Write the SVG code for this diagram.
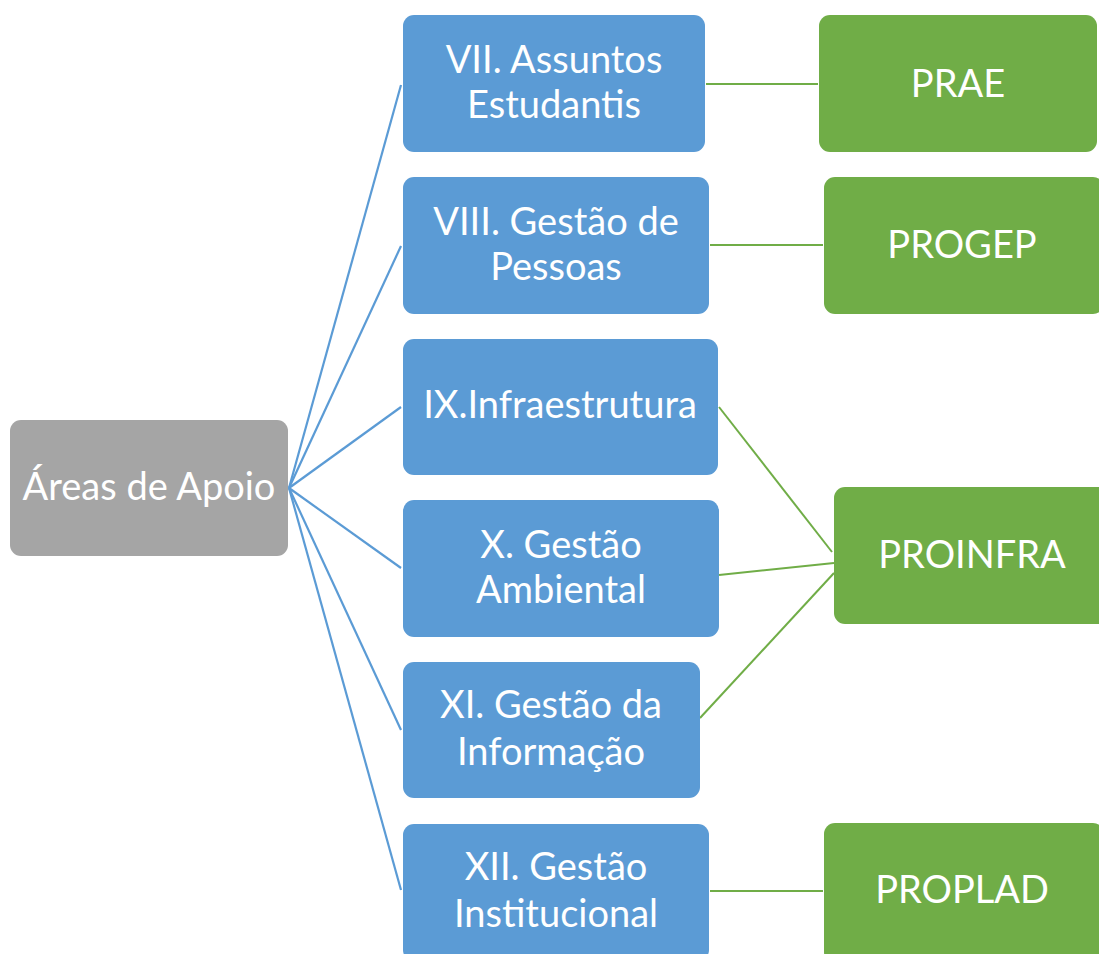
<svg xmlns="http://www.w3.org/2000/svg" width="1099" height="954" viewBox="0 0 1099 954">
<style>
.t{font-family:Lato,"Open Sans","Liberation Sans",sans-serif;font-size:38px;fill:#ffffff;text-anchor:middle}
.blue{fill:#5B9BD5}
.green{fill:#70AD47}
.gray{fill:#A5A5A5}
.lb{stroke:#5B9BD5;stroke-width:2.2;fill:none}
.lg{stroke:#70AD47;stroke-width:2;fill:none}
</style>
<rect width="1099" height="954" fill="#ffffff"/>
<g id="connectors">
<line class="lb" x1="289" y1="488" x2="401" y2="85"/>
<line class="lb" x1="289" y1="488" x2="401" y2="246"/>
<line class="lb" x1="289" y1="488" x2="401" y2="407"/>
<line class="lb" x1="289" y1="488" x2="401" y2="568"/>
<line class="lb" x1="289" y1="488" x2="401" y2="730"/>
<line class="lb" x1="289" y1="488" x2="401" y2="890"/>
<line class="lg" x1="706" y1="84" x2="818" y2="84" stroke-width="2.5"/>
<line class="lg" x1="710" y1="245" x2="823" y2="245" stroke-width="2.5"/>
<line class="lg" x1="719" y1="407" x2="832" y2="552"/>
<line class="lg" x1="719" y1="575" x2="834" y2="563" stroke-width="1.5"/>
<line class="lg" x1="700" y1="718" x2="834" y2="573" stroke-width="1.5"/>
<line class="lg" x1="710" y1="891" x2="823" y2="891" stroke-width="2.5"/>
</g>
<g id="areas">
<rect class="gray" x="10" y="420" width="278" height="136" rx="11"/>
<text class="t" x="149" y="500">Áreas de Apoio</text>
</g>
<g id="vii">
<rect class="blue" x="403" y="15" width="302" height="137" rx="11"/>
<text class="t" x="554" y="73">VII. Assuntos</text>
<text class="t" x="554" y="118">Estudantis</text>
</g>
<g id="viii">
<rect class="blue" x="403" y="177" width="306" height="137" rx="11"/>
<text class="t" x="556" y="235">VIII. Gestão de</text>
<text class="t" x="556" y="280">Pessoas</text>
</g>
<g id="ix">
<rect class="blue" x="403" y="339" width="315" height="136" rx="11"/>
<text class="t" x="560" y="418">IX.Infraestrutura</text>
</g>
<g id="x">
<rect class="blue" x="403" y="500" width="316" height="137" rx="11"/>
<text class="t" x="561" y="558">X. Gestão</text>
<text class="t" x="561" y="603">Ambiental</text>
</g>
<g id="xi">
<rect class="blue" x="403" y="662" width="297" height="136" rx="11"/>
<text class="t" x="551" y="718">XI. Gestão da</text>
<text class="t" x="551" y="765">Informação</text>
</g>
<g id="xii">
<rect class="blue" x="403" y="824" width="306" height="137" rx="11"/>
<text class="t" x="556" y="880">XII. Gestão</text>
<text class="t" x="556" y="927">Institucional</text>
</g>
<g id="prae">
<rect class="green" x="819" y="15" width="278" height="137" rx="11"/>
<text class="t" x="958" y="97">PRAE</text>
</g>
<g id="progep">
<rect class="green" x="824" y="177" width="280" height="137" rx="11"/>
<text class="t" x="962" y="258">PROGEP</text>
</g>
<g id="proinfra">
<rect class="green" x="834" y="487" width="280" height="137" rx="11"/>
<text class="t" x="972" y="568">PROINFRA</text>
</g>
<g id="proplad">
<rect class="green" x="824" y="823" width="280" height="140" rx="11"/>
<text class="t" x="962" y="903">PROPLAD</text>
</g>
</svg>
